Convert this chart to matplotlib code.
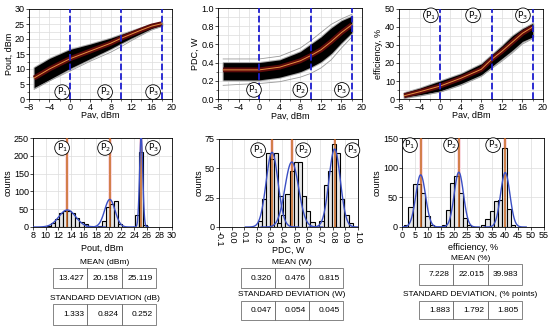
import numpy as np
import matplotlib
matplotlib.use('Agg')
import matplotlib.pyplot as plt
from matplotlib.ticker import MultipleLocator

plt.rcParams['font.family'] = ['Liberation Sans', 'DejaVu Sans']
plt.rcParams['font.size'] = 6.5

# --- sweep data (Pav, dBm) ---
pav = [-7, -4, 0, 4, 8, 10, 12, 14, 16, 18]

pout_mean = [7.0, 10.0, 13.4, 16.0, 18.6, 20.2, 21.6, 23.0, 24.3, 25.1]
pout_hi = [10.5, 13.5, 16.5, 18.3, 20.3, 21.5, 22.7, 23.8, 24.9, 25.5]
pout_lo = [3.8, 6.5, 10.2, 13.5, 16.8, 18.6, 20.3, 21.9, 23.5, 24.5]
pout_out = [3.2, 6.0, 9.3, 12.6, 15.6, 17.4, 19.4, 21.2, 23.0, 24.2]

pdc_mean = [0.32, 0.32, 0.32, 0.35, 0.42, 0.476, 0.54, 0.63, 0.73, 0.815]
pdc_hi = [0.40, 0.40, 0.40, 0.43, 0.52, 0.60, 0.68, 0.78, 0.86, 0.91]
pdc_lo = [0.21, 0.21, 0.21, 0.24, 0.30, 0.35, 0.41, 0.50, 0.62, 0.73]
pdc_out_lo = [0.15, 0.16, 0.17, 0.19, 0.24, 0.28, 0.34, 0.43, 0.56, 0.68]
pdc_out_hi = [0.44, 0.44, 0.44, 0.47, 0.56, 0.64, 0.73, 0.82, 0.88, 0.93]

eff_mean = [1.8, 4.0, 7.2, 11.5, 16.5, 22.0, 26.5, 31.5, 36.5, 40.0]
eff_hi = [3.5, 6.0, 10.0, 14.0, 19.5, 24.5, 29.5, 35.0, 39.0, 42.0]
eff_lo = [0.8, 2.2, 4.5, 8.5, 13.5, 18.0, 22.5, 27.0, 32.0, 34.5]
eff_out = [0.5, 1.8, 3.8, 7.5, 12.5, 16.8, 21.0, 25.5, 30.5, 33.5]

p_points = [0, 10, 18]

# --- histograms at P1, P2, P3 ---
pout_w = 0.65
pout_start = [10.15, 18.25, 24.1]
pout_counts = [[3, 10, 22, 38, 45, 45, 38, 25, 15, 8, 3],
               [4, 16, 55, 65, 72, 8],
               [33, 210, 5]]
pdc_w = 0.033
pdc_start = [0.205, 0.36, 0.695]
pdc_counts = [[5, 24, 63, 58, 63, 26, 9, 2],
              [3, 10, 28, 48, 55, 55, 26, 14, 4],
              [5, 36, 48, 71, 63, 24, 10, 3]]
eff_w = 1.65
eff_start = [0.85, 15.3, 30.6]
eff_counts = [[3, 33, 72, 73, 57, 18, 3],
              [3, 28, 74, 86, 57, 15, 3],
              [4, 14, 27, 43, 45, 133, 30, 3]]

# --- statistics tables ---
pout_means = [13.427, 20.158, 25.119]
pout_sd = [1.333, 0.824, 0.252]
pdc_means = [0.320, 0.476, 0.815]
pdc_sd = [0.047, 0.054, 0.045]
eff_means = [7.228, 22.015, 39.983]
eff_sd = [1.883, 1.792, 1.805]

W, H = 550, 330
fig = plt.figure(figsize=(5.5, 3.3), dpi=100)


def box(l, t, r, b):
    return [l / W, 1 - b / H, (r - l) / W, (b - t) / H]


def plabel(ax, x, y, i):
    ax.text(x, y, r'$\mathrm{P}_{%d}$' % i, ha='center', va='center', fontsize=6.5,
            bbox=dict(boxstyle='circle,pad=0.12', fc='white', ec='black', lw=0.6), zorder=6)


def sweep(rect, mean, hi, lo, outs, ylim, ystep, ylabel, lab_pos):
    ax = fig.add_axes(rect)
    ax.fill_between(pav, lo, hi, color='#8c8c8c', lw=1.5, edgecolor='#a8a8a8', zorder=2)
    ax.fill_between(pav, lo, hi, color='black', lw=0, zorder=2)
    for o in outs:
        ax.plot(pav, o, color='#9a9a9a', lw=0.6, zorder=2)
    ax.plot(pav, mean, color='#5c0a0a', lw=3.5, solid_capstyle='butt', zorder=3)
    ax.plot(pav, mean, color='#e89040', lw=0.7, zorder=4)
    for p in p_points:
        ax.axvline(p, color='#1d1dcf', ls='--', lw=1.3, zorder=5)
    for i, (x, y) in enumerate(lab_pos):
        plabel(ax, x, y, i + 1)
    ax.set_xlim(-8, 20)
    ax.set_ylim(*ylim)
    ax.xaxis.set_major_locator(MultipleLocator(4))
    ax.xaxis.set_minor_locator(MultipleLocator(2))
    ax.yaxis.set_major_locator(MultipleLocator(ystep))
    ax.yaxis.set_minor_locator(MultipleLocator(ystep / 2))
    ax.grid(True, which='both', color='#dcdcdc', lw=0.5, zorder=0)
    ax.set_axisbelow(True)
    ax.set_xlabel('Pav, dBm', va='center')
    ax.xaxis.set_label_coords(0.5, -0.185)
    ax.set_ylabel(ylabel, labelpad=1)
    ax.tick_params(length=2, width=0.5, pad=1)
    ax.tick_params(which='minor', length=1.2, width=0.4)
    for s in ax.spines.values():
        s.set_linewidth(0.6)
    return ax


sweep(box(29, 9, 172, 99), pout_mean, pout_hi, pout_lo, [pout_out], (0, 30), 5,
      'Pout, dBm', [(-1.5, 2.3), (6.9, 2.3), (16.3, 2.3)])
ax2 = sweep(box(218, 8, 362, 99), pdc_mean, pdc_hi, pdc_lo, [pdc_out_lo, pdc_out_hi],
            (0, 1.0), 0.2, 'PDC, W', [(-1.0, 0.1), (8.0, 0.1), (16.1, 0.1)])
ax2.yaxis.set_major_formatter(matplotlib.ticker.FormatStrFormatter('%.1f'))
sweep(box(399, 9, 543, 99), eff_mean, eff_hi, eff_lo, [eff_out], (0, 50), 10,
      'efficiency, %', [(-1.8, 46.5), (6.4, 46.5), (16.1, 46.5)])


def hist(rect, starts, counts, w, means, sds, xlim, xstep, ymax, ystep, xlabel, lab_pos, nw,
         label_y, rot=0):
    ax = fig.add_axes(rect)
    for st, cs, m, s in zip(starts, counts, means, sds):
        ax.axvspan(m - w * 0.45, m + w * 0.45, color='#fadbe2', lw=0, zorder=1)
        edges = st + w * np.arange(len(cs))
        ax.bar(edges, cs, width=w, align='edge', color='#e6e6e6', edgecolor='black', lw=0.8,
               zorder=2)
        xs = np.linspace(m - 4.5 * s, m + 4.5 * s, 120)
        ax.plot(xs, nw / (s * np.sqrt(2 * np.pi)) * np.exp(-0.5 * ((xs - m) / s) ** 2),
                color='#3b4fc4', lw=1.0, zorder=4)
        ax.axvline(m, color='#c8641e', lw=1.1, zorder=3)
    for i, (x, y) in enumerate(lab_pos):
        plabel(ax, x, y, i + 1)
    ax.set_xlim(*xlim)
    ax.set_ylim(0, ymax)
    ax.xaxis.set_major_locator(MultipleLocator(xstep))
    ax.yaxis.set_major_locator(MultipleLocator(ystep))
    ax.grid(True, color='#dcdcdc', lw=0.5, zorder=0)
    ax.set_axisbelow(True)
    ax.set_xlabel(xlabel, va='center')
    ax.xaxis.set_label_coords(0.5, label_y)
    ax.set_ylabel('counts', labelpad=1)
    ax.tick_params(length=2, width=0.5, pad=1)
    if rot:
        for t in ax.get_xticklabels():
            t.set_rotation(rot)
    for s in ax.spines.values():
        s.set_linewidth(0.6)
    return ax


hist(box(33, 138, 172, 227), pout_start, pout_counts, pout_w, pout_means, pout_sd,
     (8, 30), 2, 250, 50, 'Pout, dBm', [(12.6, 222), (19.4, 222), (27.0, 222)], 160, -0.235)
a5 = hist(box(219, 139, 358, 227), pdc_start, pdc_counts, pdc_w, pdc_means, pdc_sd,
          (-0.1, 1.0), 0.1, 75, 25, 'PDC, W', [(0.21, 65.5), (0.567, 65.5), (0.956, 65.5)],
          7.5, -0.27, rot=-90)
a5.xaxis.set_major_formatter(matplotlib.ticker.FormatStrFormatter('%.1f'))
hist(box(402, 138, 544, 227), eff_start, eff_counts, eff_w, eff_means, eff_sd,
     (0, 55), 5, 150, 50, 'efficiency, %', [(3.1, 138), (19.0, 138), (35.3, 138)], 415,
     -0.235)


def table(l, t, r, b, vals, fmt, title, ty):
    fig.text((l + r) / 2 / W, 1 - ty / H, title, ha='center', va='center', fontsize=6)
    ax = fig.add_axes(box(l, t, r, b))
    ax.axis('off')
    tb = ax.table(cellText=[[fmt % v for v in vals]], bbox=[0, 0, 1, 1], cellLoc='right')
    tb.auto_set_font_size(False)
    for c in tb.get_celld().values():
        c.set_fontsize(6)
        c.set_linewidth(0.5)
        c.set_edgecolor('#555555')


table(53, 268, 156, 288, pout_means, '%.3f', 'MEAN (dBm)', 262)
table(53, 304, 156, 325, pout_sd, '%.3f', 'STANDARD DEVIATION (dB)', 299)
table(241, 268, 343, 288, pdc_means, '%.3f', 'MEAN (W)', 263)
table(241, 301, 343, 320, pdc_sd, '%.3f', 'STANDARD DEVIATION (W)', 295)
table(419, 264, 522, 285, eff_means, '%.3f', 'MEAN (%)', 258)
table(419, 301, 522, 319, eff_sd, '%.3f', 'STANDARD DEVIATION, (% points)', 295)

fig.savefig('out.png', dpi=100)
